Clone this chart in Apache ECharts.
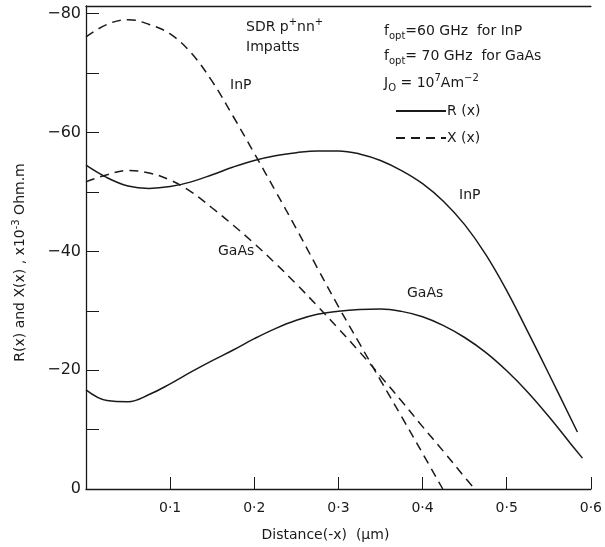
<!DOCTYPE html>
<html>
<head>
<meta charset="utf-8">
<script src="https://cdn.jsdelivr.net/npm/echarts@6/dist/echarts.min.js"></script>
<style>
	html, body { margin: 0; padding: 0; background: #fff; }
	#chart { width: 605px; height: 547px; }
</style>
</head>
<body>
<div id="chart"></div>
<script type="text/javascript">
    // distance (-x) in um, impedance in x10^-3 Ohm.m
    var inpRx = [0, 0.025, 0.05, 0.075, 0.1, 0.125, 0.15, 0.175, 0.2, 0.225, 0.25, 0.275, 0.3, 0.325, 0.35, 0.375, 0.4, 0.425, 0.45, 0.475, 0.5, 0.525, 0.55, 0.584];
    var inpR = [-54.5, -52.4, -51.0, -50.6, -50.9, -51.7, -52.9, -54.2, -55.3, -56.1, -56.6, -56.9, -56.9, -56.4, -55.3, -53.6, -51.4, -48.4, -44.5, -39.5, -33.4, -26.5, -19.4, -9.6];

    var inpXx = [0, 0.025, 0.05, 0.075, 0.1, 0.125, 0.15, 0.175, 0.2, 0.225, 0.25, 0.275, 0.3, 0.325, 0.35, 0.375, 0.4, 0.424];
    var inpX = [-76.1, -78.2, -79.0, -78.2, -76.6, -73.4, -68.6, -62.7, -56.5, -50.2, -43.8, -37.2, -30.7, -24.5, -18.3, -12.2, -6.0, 0];

    var gaasRx = [0, 0.025, 0.05, 0.075, 0.1, 0.125, 0.15, 0.175, 0.2, 0.225, 0.25, 0.275, 0.3, 0.325, 0.35, 0.375, 0.4, 0.425, 0.45, 0.475, 0.5, 0.525, 0.55, 0.575, 0.59];
    var gaasR = [-16.7, -14.9, -14.7, -15.9, -17.7, -19.7, -21.6, -23.4, -25.3, -27.0, -28.4, -29.4, -29.9, -30.2, -30.3, -29.9, -29.0, -27.5, -25.5, -23.0, -19.9, -16.3, -12.2, -7.8, -5.2];

    var gaasXx = [0, 0.025, 0.05, 0.075, 0.1, 0.125, 0.15, 0.175, 0.2, 0.225, 0.25, 0.275, 0.3, 0.325, 0.35, 0.375, 0.4, 0.425, 0.45, 0.462];
    var gaasX = [-51.7, -52.9, -53.6, -53.2, -52.0, -50.0, -47.3, -44.4, -41.3, -38.0, -34.5, -30.8, -27.0, -23.1, -19.0, -14.8, -10.5, -6.3, -2.0, 0];

    var yTicks = [-80, -70, -60, -50, -40, -30, -20, -10, 0];
    var yLabels = [-80, -60, -40, -20, 0];

    function pairs(xs, ys) {
        var out = [];
        for (var i = 0; i < xs.length; i++) out.push([xs[i], ys[i]]);
        return out;
    }

    var font = 'DejaVu Sans';
    var ink = '#1a1a1a';

    function line(name, xs, ys, dashed) {
        return {
            name: name,
            type: 'line',
            data: pairs(xs, ys),
            smooth: 0.4,
            symbol: 'none',
            lineStyle: { color: ink, width: 1.5, type: dashed ? [9, 6] : 'solid' },
            itemStyle: { color: ink }
        };
    }

    // rich text: {n|normal} {sub|subscript} {sup|superscript}
    var rich = {
        n: { fontFamily: font, fontSize: 14, color: ink, lineHeight: 20, verticalAlign: 'middle' },
        sub: { fontFamily: font, fontSize: 10, color: ink, lineHeight: 20, verticalAlign: 'bottom' },
        sup: { fontFamily: font, fontSize: 10, color: ink, lineHeight: 20, verticalAlign: 'top' }
    };

    function note(text, left, top) {
        return {
            type: 'text', left: left, top: top,
            style: { text: text, rich: rich, font: '14px "' + font + '"', fill: ink }
        };
    }

    var myChart = echarts.init(document.getElementById('chart'));
    var option = {
        backgroundColor: '#fff',
        animation: false,
        grid: { left: 86, right: 1, top: 6, bottom: 58 },
        legend: {
            orient: 'vertical',
            left: 395, top: 104, padding: 0,
            itemWidth: 50, itemHeight: 10, itemGap: 13,
            itemStyle: { opacity: 0 },
            textStyle: { fontFamily: font, fontSize: 14, color: ink, padding: [0, 0, 0, -4] },
            data: ['R (x)', 'X (x)']
        },
        xAxis: [
            {
                type: 'value', min: 0, max: 0.6, interval: 0.1,
                name: 'Distance(-x)  (μm)',
                nameLocation: 'middle', nameGap: 39,
                nameTextStyle: { fontFamily: font, fontSize: 14, color: ink, padding: [0, 26, 0, 0] },
                axisLine: { lineStyle: { color: ink, width: 1.3 } },
                axisTick: { inside: true, length: 12, lineStyle: { color: ink } },
                axisLabel: {
                    showMinLabel: false,
                    fontFamily: font, fontSize: 14, color: ink, margin: 12,
                    formatter: function (v) { return v.toFixed(1).replace('.', '·'); }
                },
                splitLine: { show: false }
            },
            {
                type: 'value', min: 0, max: 0.6, position: 'top',
                axisLine: { lineStyle: { color: ink, width: 1.3 } },
                axisTick: { show: false }, axisLabel: { show: false }, splitLine: { show: false }
            }
        ],
        yAxis: {
            type: 'value', min: -81.3, max: 0, inverse: true,
            name: '{t|R(x) and X(x) , x10}{s|-3}{t| Ohm.m}',
            nameLocation: 'middle', nameGap: 57,
            nameTextStyle: {
                padding: [0, 30, 0, 0],
                rich: {
                    t: { fontFamily: font, fontSize: 14, color: ink },
                    s: { fontFamily: font, fontSize: 10, color: ink, padding: [0, 0, 8, 0] }
                }
            },
            axisLine: { lineStyle: { color: ink, width: 1.3 } },
            axisTick: { inside: true, length: 13, customValues: yTicks, lineStyle: { color: ink } },
            axisLabel: {
                customValues: yLabels,
                fontFamily: font, fontSize: 16, color: ink, margin: 5,
                formatter: function (v) { return v === 0 ? '0' : '−' + Math.abs(v); }
            },
            splitLine: { show: false }
        },
        graphic: [
            note('{n|SDR p}{sup|+}{n|nn}{sup|+}', 246, 17),
            note('{n|Impatts}', 246, 40),
            note('{n|InP}', 230, 78),
            note('{n|f}{sub|opt}{n|=60 GHz  for InP}', 384, 24),
            note('{n|f}{sub|opt}{n|= 70 GHz  for GaAs}', 384, 49),
            note('{n|J}{sub|O}{n| = 10}{sup|7}{n|Am}{sup|−2}', 384, 73),
            note('{n|InP}', 459, 188),
            note('{n|GaAs}', 218, 244),
            note('{n|GaAs}', 407, 286)
        ],
        series: [
            line('R (x)', inpRx, inpR, false),
            line('X (x)', inpXx, inpX, true),
            line('R (x)', gaasRx, gaasR, false),
            line('X (x)', gaasXx, gaasX, true)
        ]
    };
    myChart.setOption(option);
</script>
</body>
</html>
